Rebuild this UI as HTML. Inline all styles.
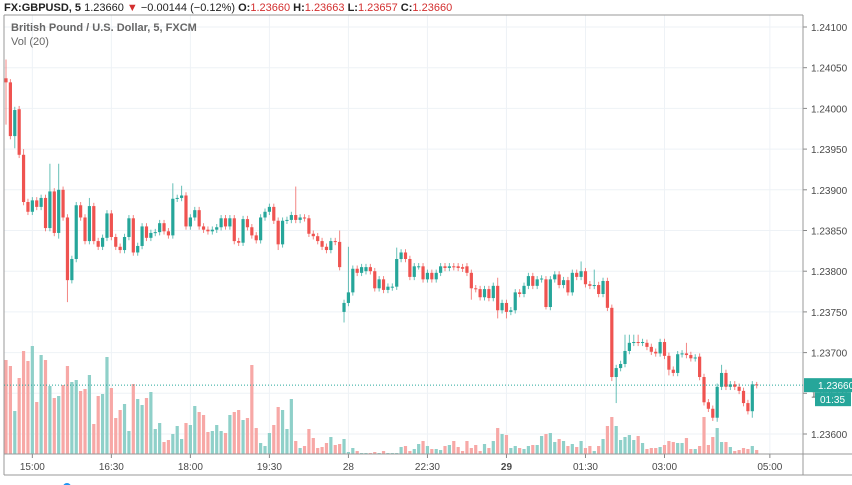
<!DOCTYPE html>
<html><head><meta charset="utf-8"><style>
html,body{margin:0;padding:0;background:#fff;width:852px;height:485px;overflow:hidden}
svg{display:block;font-family:"Liberation Sans",sans-serif}
</style></head><body>
<svg id="chart" width="852" height="485" viewBox="0 0 852 485">
<g id="grid"></g>
<g id="vols"></g>
<g id="candles"></g>
<g id="axes"></g>
<text x="4" y="11" font-size="11" font-weight="bold" fill="#222">FX:GBPUSD, 5 <tspan font-weight="normal">1.23660</tspan> <tspan fill="#d32f2f">▼</tspan> <tspan font-weight="normal">−0.00144 (−0.12%)</tspan> O:<tspan fill="#d32f2f" font-weight="normal">1.23660</tspan> H:<tspan fill="#d32f2f" font-weight="normal">1.23663</tspan> L:<tspan fill="#d32f2f" font-weight="normal">1.23657</tspan> C:<tspan fill="#d32f2f" font-weight="normal">1.23660</tspan></text>
<text x="11" y="31" font-size="11" font-weight="bold" fill="#666">British Pound / U.S. Dollar, 5, FXCM</text>
<text x="11" y="45" font-size="11" fill="#666">Vol (20)</text>
</svg>
<script>
const priceTicks=[1.24100,1.24050,1.24000,1.23950,1.23900,1.23850,1.23800,1.23750,1.23700,1.23650,1.23600];
const timeLabels=["15:00","16:30","18:00","19:30","28","22:30","29","01:30","03:00","05:00"];
const timeLabelBars=[6,24,42,60,78,96,114,132,150,174];
const opens=[1.24037,1.24032,1.23966,1.23999,1.23943,1.23885,1.23873,1.23887,1.23879,1.23890,1.23853,1.23898,1.23847,1.23900,1.23866,1.23789,1.23815,1.23881,1.23866,1.23837,1.23880,1.23837,1.23830,1.23841,1.23871,1.23842,1.23830,1.23826,1.23842,1.23865,1.23823,1.23831,1.23855,1.23841,1.23847,1.23848,1.23859,1.23849,1.23844,1.23889,1.23890,1.23893,1.23855,1.23866,1.23875,1.23855,1.23851,1.23849,1.23851,1.23854,1.23865,1.23855,1.23865,1.23837,1.23835,1.23864,1.23854,1.23844,1.23838,1.23866,1.23873,1.23879,1.23862,1.23833,1.23862,1.23863,1.23869,1.23863,1.23866,1.23865,1.23846,1.23843,1.23837,1.23830,1.23826,1.23837,1.23836,1.23750,1.23761,1.23774,1.23803,1.23798,1.23800,1.23805,1.23800,1.23779,1.23790,1.23777,1.23780,1.23781,1.23815,1.23823,1.23815,1.23793,1.23806,1.23806,1.23790,1.23798,1.23790,1.23798,1.23806,1.23804,1.23806,1.23806,1.23805,1.23806,1.23798,1.23779,1.23778,1.23768,1.23778,1.23767,1.23782,1.23752,1.23761,1.23750,1.23752,1.23774,1.23772,1.23782,1.23794,1.23782,1.23790,1.23790,1.23756,1.23790,1.23796,1.23783,1.23789,1.23774,1.23798,1.23793,1.23800,1.23784,1.23782,1.23783,1.23772,1.23788,1.23755,1.23670,1.23681,1.23686,1.23702,1.23712,1.23713,1.23712,1.23712,1.23707,1.23701,1.23699,1.23713,1.23696,1.23679,1.23675,1.23698,1.23699,1.23697,1.23693,1.23695,1.23670,1.23639,1.23631,1.23620,1.23658,1.23675,1.23658,1.23661,1.23658,1.23653,1.23638,1.23628,1.23661];
const closes=[1.24032,1.23966,1.23998,1.23943,1.23885,1.23873,1.23887,1.23879,1.23890,1.23853,1.23898,1.23847,1.23900,1.23866,1.23789,1.23815,1.23881,1.23866,1.23837,1.23880,1.23837,1.23830,1.23841,1.23871,1.23842,1.23830,1.23826,1.23842,1.23865,1.23823,1.23831,1.23855,1.23841,1.23847,1.23848,1.23859,1.23849,1.23844,1.23889,1.23890,1.23893,1.23855,1.23866,1.23875,1.23855,1.23851,1.23849,1.23851,1.23854,1.23865,1.23855,1.23865,1.23837,1.23835,1.23864,1.23854,1.23844,1.23838,1.23866,1.23873,1.23879,1.23862,1.23833,1.23862,1.23863,1.23869,1.23863,1.23866,1.23865,1.23846,1.23843,1.23837,1.23830,1.23826,1.23837,1.23836,1.23805,1.23761,1.23774,1.23803,1.23798,1.23805,1.23805,1.23800,1.23779,1.23790,1.23777,1.23781,1.23781,1.23815,1.23823,1.23815,1.23793,1.23806,1.23806,1.23790,1.23798,1.23790,1.23798,1.23806,1.23804,1.23806,1.23805,1.23804,1.23803,1.23798,1.23779,1.23778,1.23768,1.23778,1.23767,1.23782,1.23752,1.23761,1.23750,1.23752,1.23774,1.23772,1.23782,1.23794,1.23782,1.23790,1.23791,1.23756,1.23790,1.23796,1.23783,1.23789,1.23774,1.23798,1.23793,1.23800,1.23784,1.23782,1.23783,1.23772,1.23788,1.23755,1.23670,1.23681,1.23686,1.23702,1.23712,1.23713,1.23712,1.23713,1.23707,1.23701,1.23699,1.23713,1.23696,1.23679,1.23675,1.23698,1.23699,1.23697,1.23693,1.23694,1.23670,1.23639,1.23631,1.23620,1.23658,1.23675,1.23658,1.23661,1.23658,1.23653,1.23638,1.23628,1.23661,1.23660];
const wickHighs={0:1.24060,4:1.23950,10:1.23932,12:1.23932,19:1.23890,38:1.23908,40:1.23905,66:1.23904,76:1.23850,78:1.23830,89:1.23829,112:1.23792,131:1.23812,134:1.23802,141:1.23722,142:1.23722,143:1.23722,144:1.23722,155:1.23712,163:1.23685,171:1.23664};
const wickLows={0:1.23980,2:1.23951,12:1.23840,14:1.23762,15:1.23785,62:1.23826,77:1.23737,106:1.23765,112:1.23742,114:1.23742,123:1.23753,138:1.23665,139:1.23638,151:1.23672,162:1.23615,170:1.23620};
const volumes=[94,88,43,76,103,93,108,52,99,94,68,56,58,69,88,72,74,63,65,79,30,58,60,97,66,36,44,50,23,70,55,49,56,62,25,31,12,14,20,28,15,31,29,48,42,39,22,23,29,23,21,39,42,44,34,36,89,26,11,8,21,29,47,44,25,55,13,6,8,25,16,6,7,11,17,9,10,15,2,6,3,1,1,1,2,1,3,1,1,1,7,8,3,5,10,13,8,5,5,4,8,9,13,7,3,13,6,9,3,10,6,13,26,20,19,6,8,6,5,8,9,9,18,20,21,12,15,13,8,10,7,13,6,8,3,8,15,28,37,28,14,17,19,14,18,11,5,6,6,7,9,13,12,11,11,16,5,5,8,37,9,17,26,12,12,7,3,4,6,5,8,4];

const NS="http://www.w3.org/2000/svg";
const plotL=4,plotR=803,plotT=15,plotB=454,axisB=475;
const x0=6,step=4.39;
function xOf(i){return x0+i*step;}
function yOf(p){return 27+(1.241-p)*81400;}
function vY(v){return plotB-v;}
function mk(tag,attrs,parent){const e=document.createElementNS(NS,tag);for(const k in attrs)e.setAttribute(k,attrs[k]);parent.appendChild(e);return e;}
const grid=document.getElementById('grid'),vols=document.getElementById('vols'),cg=document.getElementById('candles'),ax=document.getElementById('axes');

priceTicks.forEach(p=>{const y=yOf(p);
 const l=mk('line',{x1:plotL,x2:plotR,y1:y,y2:y,stroke:'#eef2f6','stroke-width':1},grid);
 
 
 const t=mk('line',{x1:plotR,x2:plotR+4,y1:y,y2:y,stroke:'#888'},ax);
 
 
 const tx=mk('text',{x:811,y:y+4,'font-size':10,fill:'#4a4a4a'},ax);
 tx.textContent=p.toFixed(5);
 
 
});
timeLabels.forEach((lab,k)=>{const x=xOf(timeLabelBars[k]);
 const l=mk('line',{x1:x,x2:x,y1:plotT,y2:plotB,stroke:'#eef2f6'},grid);
 
 
 const t=mk('line',{x1:x,x2:x,y1:plotB,y2:plotB+4,stroke:'#888'},ax);
 
 
 const tx=mk('text',{x:x,y:470,'font-size':10,fill:'#4a4a4a','text-anchor':'middle','font-weight':(lab==='29'?'bold':'normal')},ax);
 tx.textContent=lab;
 
 
});

volumes.forEach((v,i)=>{const up=closes[i]>=opens[i];
 const r=mk('rect',{x:xOf(i)-1.6,y:vY(v),width:3.2,height:v,fill:up?'#8fd0c9':'#f7a8a6'},vols);
 
 
});

closes.forEach((c,i)=>{const o=opens[i];const up=c>=o;const col=up?'#26a69a':'#ef5350';
 const top=Math.max(o,c),bot=Math.min(o,c);
 const hi=wickHighs[i]!==undefined?wickHighs[i]:top+0.00004;
 const lo=wickLows[i]!==undefined?wickLows[i]:bot-0.00004;
 const x=xOf(i);
 const w=mk('line',{x1:x,x2:x,y1:yOf(hi),y2:yOf(lo),stroke:col,'stroke-width':1,opacity:0.7},cg);
 
 
 const h=Math.max(1,yOf(bot)-yOf(top));
 const b=mk('rect',{x:x-1.6,y:yOf(top),width:3.2,height:h,fill:col},cg);
 
 
});

[[plotL,plotT,plotR,plotT],[plotL,plotT,plotL,axisB],[plotR,plotT,plotR,axisB],[plotL,plotB,852,plotB],[plotL,axisB,852,axisB]].forEach(s=>{
 const l=mk('line',{x1:s[0],y1:s[1],x2:s[2],y2:s[3],stroke:'#999','stroke-width':1},ax);
 
 
});
const last=closes[closes.length-1];const ly=yOf(last);
const pl=mk('line',{x1:plotL,x2:plotR,y1:ly,y2:ly,stroke:'#26a69a','stroke-dasharray':'1,2'},ax);


const pb=mk('rect',{x:804,y:ly-7,width:48,height:14,fill:'#26a69a'},ax);


const pt=mk('text',{x:818,y:ly+4,'font-size':10,fill:'#fff'},ax);
pt.textContent=last.toFixed(5);


const cb=mk('rect',{x:815,y:ly+7,width:36,height:14,fill:'#26a69a'},ax);


const ct=mk('text',{x:820,y:ly+18,'font-size':10,fill:'#fff'},ax);
ct.textContent='01:35';


const dot=mk('circle',{cx:67,cy:487,r:4,fill:'#2196f3'},ax);


</script>
</body></html>
